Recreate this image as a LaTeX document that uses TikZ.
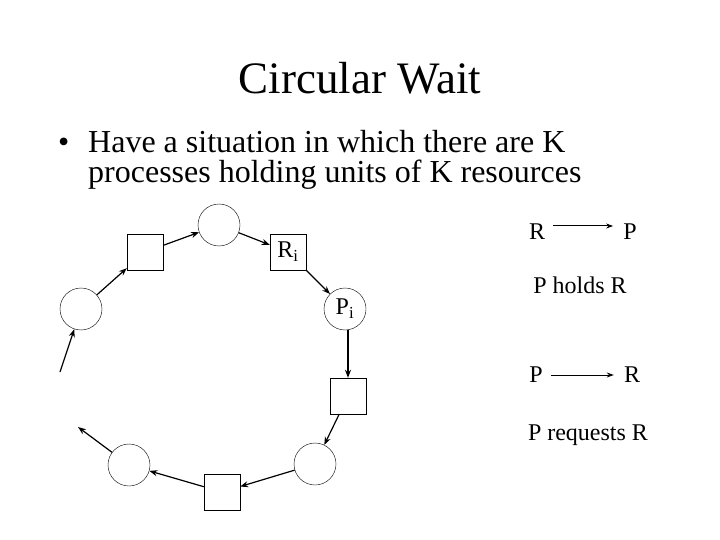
\documentclass[tikz,border=0pt]{standalone}
\usepackage{fontspec}
\setmainfont{Liberation Serif}
\usetikzlibrary{arrows.meta}
\begin{document}
\begin{tikzpicture}[x=1pt,y=-1pt,
  proc/.style={draw,circle,minimum size=42pt,inner sep=0pt,font=\fontsize{24}{24}\selectfont},
  res/.style={draw,rectangle,minimum size=36pt,inner sep=0pt,font=\fontsize{24}{24}\selectfont},
  lbl/.style={font=\fontsize{24}{28}\selectfont,inner sep=0pt},
  body/.style={font=\fontsize{32}{32}\selectfont,inner sep=0pt,anchor=base west},
  arr/.style={-{Stealth[length=8pt,width=6pt]},line width=1.2pt}]
\useasboundingbox (0,0) rectangle (720,540);
\node[font=\fontsize{45}{48}\selectfont] (title) at (360,78) {Circular Wait};
\node[body] (dot) at (58,153) {•};
\node[body] (l1) at (88,153) {Have a situation in which there are K};
\node[body] (l2) at (88,183) {processes holding units of K resources};
\node[proc] (c1) at (219,225) {};
\node[res] (s1) at (145,252) {};
\node[res] (ri) at (288,252) {R\textsubscript{i}};
\node[proc] (pi) at (345,309) {P\textsubscript{i}};
\node[res] (s2) at (348,396) {};
\node[proc] (c3) at (315,464) {};
\node[res] (s3) at (222,492) {};
\node[proc] (c4) at (129,465) {};
\node[proc] (c5) at (81,309) {};
\coordinate (fe) at (78,427);
\coordinate (fs) at (60,372);
\draw[arr] (c5) -- (s1);
\draw[arr] (s1) -- (c1);
\draw[arr] (c1) -- (ri);
\draw[arr] (ri) -- (pi);
\draw[arr] (pi.south -| s2.north) -- (s2.north);
\draw[arr] (s2) -- (c3);
\draw[arr] (c3) -- (s3);
\draw[arr] (s3) -- (c4);
\draw[arr] (c4) -- (fe);
\draw[arr] (fs) -- (c5);
\node[lbl] (r1) at (537,232) {R};
\node[lbl] (p1) at (630,232) {P};
\draw[-{Stealth[length=7pt,width=5pt]},line width=1pt] ([xshift=8pt,yshift=6pt]r1.east) -- ([xshift=-10pt,yshift=6pt]p1.west);
\node[lbl] (h) at (580,285) {P holds R};
\node[lbl] (p2) at (536,375) {P};
\node[lbl] (r2) at (632,375) {R};
\draw[-{Stealth[length=7pt,width=5pt]},line width=1pt] ([xshift=8pt]p2.east) -- ([xshift=-10pt]r2.west);
\node[lbl] (q) at (588,435) {P requests R};
\end{tikzpicture}
\end{document}
